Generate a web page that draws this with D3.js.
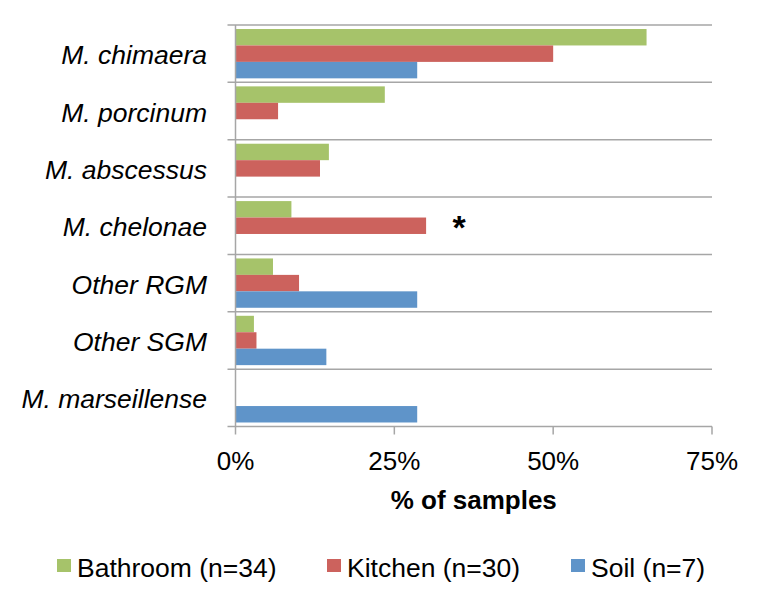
<!DOCTYPE html>
<html>
<head>
<meta charset="utf-8">
<script src="https://cdn.jsdelivr.net/npm/d3@7"></script>
<style>
  html, body { margin: 0; padding: 0; background: #ffffff; }
  svg { display: block; }
  text { font-family: "Liberation Sans", Arial, sans-serif; fill: #000; }
</style>
</head>
<body>
<svg id="chart" width="767" height="601"></svg>
<script>
// ---- data ----
const categories = ["M. chimaera", "M. porcinum", "M. abscessus", "M. chelonae", "Other RGM", "Other SGM", "M. marseillense"];
const seriesNames = ["Bathroom (n=34)", "Kitchen (n=30)", "Soil (n=7)"];
const bathroom = [64.7, 23.5, 14.7, 8.8, 5.9, 2.9, 0];
const kitchen  = [50.0, 6.7, 13.3, 30.0, 10.0, 3.3, 0];
const soil     = [28.6, 0, 0, 0, 28.6, 14.3, 28.6];
const xTicks = [0, 25, 50, 75];
const tickLabels = ["0%", "25%", "50%", "75%"];
const colors = ["#a6c36a", "#cc625d", "#5f94c9"];
const starCategory = "M. chelonae";

const seriesValues = [bathroom, kitchen, soil];

const svg = d3.select("#chart");
const plotLeft = 235.5, plotRight = 712, plotTop = 25, plotBottom = 426.5;

const x = d3.scaleLinear().domain([0, 75]).range([plotLeft, plotRight]);
const y = d3.scaleBand().domain(categories).range([plotTop, plotBottom]).paddingInner(0).paddingOuter(0);
const inner = d3.scaleBand().domain(d3.range(seriesNames.length))
  .range([y.bandwidth() * 0.07, y.bandwidth() * 0.93]).padding(0);

// gridlines (category boundaries) with left tick extension
const bounds = categories.map(c => y(c)).concat([y(categories[categories.length - 1]) + y.bandwidth()]);
svg.append("g").selectAll("line").data(bounds).join("line")
  .attr("x1", plotLeft - 8).attr("x2", plotRight)
  .attr("y1", d => d).attr("y2", d => d)
  .attr("stroke", "#a6a6a6").attr("stroke-width", 1.5);

// bars
const g = svg.append("g");
categories.forEach((c, ci) => {
  seriesValues.forEach((vals, si) => {
    const v = vals[ci];
    if (v <= 0) return;
    g.append("rect")
      .attr("x", x(0))
      .attr("y", y(c) + inner(si))
      .attr("width", x(v) - x(0))
      .attr("height", inner.bandwidth())
      .attr("fill", colors[si]);
  });
});

// vertical axis line
svg.append("line").attr("x1", plotLeft).attr("x2", plotLeft).attr("y1", plotTop).attr("y2", plotBottom)
  .attr("stroke", "#a6a6a6").attr("stroke-width", 1.5);

// x axis ticks
svg.append("g").selectAll("line").data(xTicks).join("line")
  .attr("x1", d => x(d)).attr("x2", d => x(d))
  .attr("y1", plotBottom).attr("y2", plotBottom + 8)
  .attr("stroke", "#a6a6a6").attr("stroke-width", 1.5);

svg.append("g").selectAll("text").data(xTicks).join("text")
  .attr("x", d => x(d)).attr("y", 470)
  .attr("text-anchor", "middle")
  .style("font-size", "26px")
  .text((d, i) => tickLabels[i]);

// axis title
svg.append("text")
  .attr("x", (plotLeft + plotRight) / 2).attr("y", 509)
  .attr("text-anchor", "middle")
  .style("font-size", "26px").style("font-weight", "bold")
  .text("% of samples");

// category labels
svg.append("g").selectAll("text").data(categories).join("text")
  .attr("x", 207)
  .attr("y", d => y(d) + y.bandwidth() / 2 + 10.5)
  .attr("text-anchor", "end")
  .style("font-size", "26.5px").style("font-style", "italic")
  .text(d => d);

// asterisk
const si = categories.indexOf(starCategory);
svg.append("text")
  .attr("x", x(kitchen[si]) + 33)
  .attr("y", y(starCategory) + inner(1) + inner.bandwidth() / 2 + 13)
  .attr("text-anchor", "middle")
  .style("font-size", "34px").style("font-weight", "bold")
  .text("*");

// legend
const legendX = [57, 327, 571];
const lg = svg.append("g");
seriesNames.forEach((n, i) => {
  lg.append("rect").attr("x", legendX[i]).attr("y", 559).attr("width", 14).attr("height", 13)
    .attr("fill", colors[i]);
  lg.append("text").attr("x", legendX[i] + 20).attr("y", 577)
    .style("font-size", "26.5px").text(n);
});
</script>
</body>
</html>
